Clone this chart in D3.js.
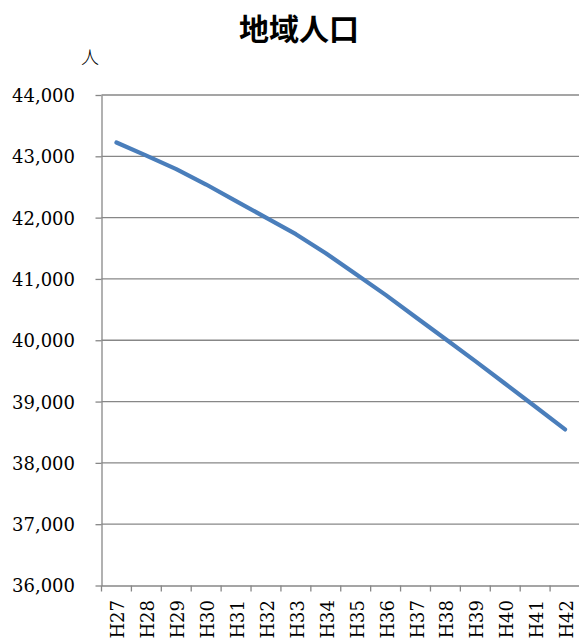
<!DOCTYPE html>
<html>
<head>
<meta charset="utf-8">
<script src="https://cdn.jsdelivr.net/npm/d3@7"></script>
<style>
  html, body { margin: 0; padding: 0; background: #fff; }
  svg { display: block; }
  .serif { font-family: "DejaVu Serif", serif; }
</style>
</head>
<body>
<svg id="chart" width="579" height="640"></svg>
<script>
const title = "地域人口";
const unitLabel = "人";
const categories = ["H27","H28","H29","H30","H31","H32","H33","H34","H35","H36","H37","H38","H39","H40","H41","H42"];
const population = [43225, 43010, 42790, 42540, 42270, 42000, 41730, 41420, 41080, 40740, 40380, 40020, 39660, 39290, 38920, 38545];
const yTicks = [36000, 37000, 38000, 39000, 40000, 41000, 42000, 43000, 44000];

(function () {
const svg = d3.select("#chart");
const pLeft = 101.5, pRight = 580, pTop = 95, pBottom = 585.5;
const grey = "#878787";

const x = d3.scaleBand().domain(categories).range([pLeft, pRight]).paddingInner(0).paddingOuter(0);
const y = d3.scaleLinear().domain([36000, 44000]).range([pBottom, pTop]);

// title
svg.append("text")
  .attr("x", 299).attr("y", 40)
  .attr("text-anchor", "middle")
  .style("font-family", "'Noto Sans CJK JP', sans-serif")
  .attr("font-weight", "bold")
  .attr("font-size", 30)
  .attr("fill", "#000")
  .text(title);

// unit
svg.append("text")
  .attr("x", 90).attr("y", 64)
  .attr("text-anchor", "middle")
  .style("font-family", "'Noto Sans CJK JP', sans-serif")
  .attr("font-weight", 300)
  .attr("font-size", 18)
  .attr("fill", "#000")
  .text(unitLabel);

// y axis + ticks
const yAxis = d3.axisLeft(y).tickValues(yTicks)
  .tickSize(6).tickSizeOuter(0)
  .tickFormat(d3.format(","));
const gy = svg.append("g").attr("transform", `translate(${pLeft},0)`).call(yAxis);
gy.attr("font-family", null).attr("font-size", null);
gy.select(".domain").attr("stroke", grey).attr("stroke-width", 1.3);
gy.selectAll(".tick line").attr("stroke", grey).attr("stroke-width", 1.3);
gy.selectAll(".tick text")
  .attr("class", "serif")
  .attr("x", -26.5).attr("dy", "0.36em")
  .attr("font-size", 18).attr("fill", "#000");

// gridlines
svg.append("g").selectAll("line").data(yTicks.filter(d => d !== 36000)).join("line")
  .attr("x1", pLeft).attr("x2", pRight)
  .attr("y1", d => y(d)).attr("y2", d => y(d))
  .attr("stroke", grey).attr("stroke-width", 1.3);

// x axis
const xAxis = d3.axisBottom(x).tickSize(0).tickSizeOuter(0).tickFormat("");
const gx = svg.append("g").attr("transform", `translate(0,${pBottom})`).call(xAxis);
gx.select(".domain").attr("stroke", grey).attr("stroke-width", 1.3);
gx.selectAll(".tick").remove();
const edges = categories.map(c => x(c)).concat([x(categories[categories.length - 1]) + x.bandwidth()]);
gx.selectAll("line.edge").data(edges).join("line")
  .attr("class", "edge")
  .attr("x1", d => d).attr("x2", d => d)
  .attr("y1", 0).attr("y2", 6)
  .attr("stroke", grey).attr("stroke-width", 1.3);

// x labels
svg.append("g").selectAll("text").data(categories).join("text")
  .attr("class", "serif")
  .attr("transform", d => `translate(${x(d) + x.bandwidth() / 2 + 1.5},600) rotate(-90)`)
  .attr("text-anchor", "end")
  .attr("dy", "0.36em")
  .attr("font-size", 18).attr("fill", "#000")
  .text(d => d);

// line
const line = d3.line()
  .x((d, i) => x(categories[i]) + x.bandwidth() / 2)
  .y(d => y(d));
svg.append("path")
  .datum(population)
  .attr("d", line)
  .attr("fill", "none")
  .attr("stroke", "#4a7ebb")
  .attr("stroke-width", 4.2)
  .attr("stroke-linecap", "round")
  .attr("stroke-linejoin", "round");
})();
</script>
</body>
</html>
